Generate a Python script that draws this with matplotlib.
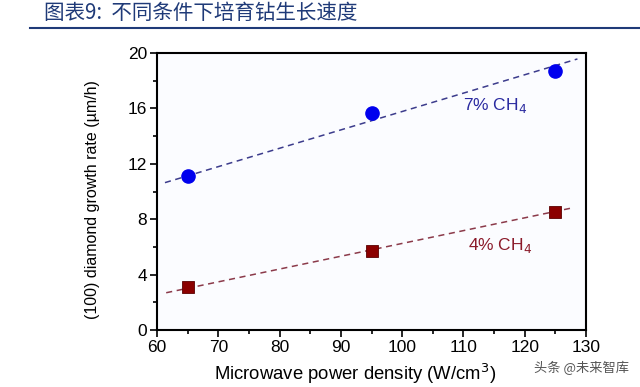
import numpy as np
import matplotlib.pyplot as plt
from matplotlib.ticker import MultipleLocator

# data
power = [65, 95, 125]
rate_7 = [11.1, 15.7, 18.7]
rate_4 = [3.1, 5.7, 8.5]

# dashed fit lines (end points)
fit_x_7 = [61.3, 128.6]
fit_y_7 = [10.64, 19.57]
fit_x_4 = [61.5, 127.9]
fit_y_4 = [2.69, 8.83]

title = "图表9:  不同条件下培育钻生长速度"
watermark = "头条 @未来智库"

plt.rcParams['font.family'] = ['Liberation Sans', 'Noto Sans CJK SC', 'DejaVu Sans']

fig = plt.figure(figsize=(6.4, 3.87), dpi=100)
W, H = 640, 387
ax = fig.add_axes([157 / W, 1 - 330 / H, (586 - 157) / W, (330 - 53) / H])

ax.plot(fit_x_7, fit_y_7, ls=(0, (4, 3)), color="#3c3c8c", lw=1.1)
ax.plot(fit_x_4, fit_y_4, ls=(0, (4, 3)), color="#8b3a4a", lw=1.1)
ax.plot(power, rate_7, 'o', color="#0000ee", ms=9.5, zorder=3)
ax.plot(power, rate_4, 's', color="#8b0000", ms=8, mec="#5a0000", mew=0.6, zorder=3)

ax.text(115.2, 16.2, "7% CH$_4$", color="#2a2aa0", fontsize=12.5, ha="center", va="center")
ax.text(116, 6.1, "4% CH$_4$", color="#8b1a2a", fontsize=12.5, ha="center", va="center")

ax.set_xlim(60, 130)
ax.set_ylim(0, 20)
ax.xaxis.set_major_locator(MultipleLocator(10))
ax.xaxis.set_minor_locator(MultipleLocator(5))
ax.yaxis.set_major_locator(MultipleLocator(4))
ax.yaxis.set_minor_locator(MultipleLocator(2))
ax.tick_params(which="both", direction="out", width=1.2, top=False, right=False)
ax.tick_params(which="major", length=5, labelsize=12.5, pad=2)
ax.tick_params(which="minor", length=3)
for s in ax.spines.values():
    s.set_linewidth(1.5)
ax.set_facecolor("#fbfcff")

ax.set_xlabel("Microwave power density (W/cm$^3$)", fontsize=13.3)
ax.xaxis.set_label_coords(0.462, -0.115)
ax.set_ylabel("(100) diamond growth rate (µm/h)", fontsize=11.5)
ax.yaxis.set_label_coords(-0.133, 0.47)

fig.text(44 / W, 1 - 13 / H, title, fontsize=14.8, color="#1f3a78", style="italic",
         va="center", ha="left", family=['Noto Sans CJK SC', 'DejaVu Sans'])
fig.add_artist(plt.Line2D([30 / W, 1], [1 - 28 / H, 1 - 28 / H], color="#1f3a78", lw=1.5))
fig.text(629 / W, 1 - 368 / H, watermark, fontsize=9.5, color="#555555",
         va="center", ha="right", family=['Noto Sans CJK SC', 'DejaVu Sans'])

fig.savefig("out.png", dpi=100)
